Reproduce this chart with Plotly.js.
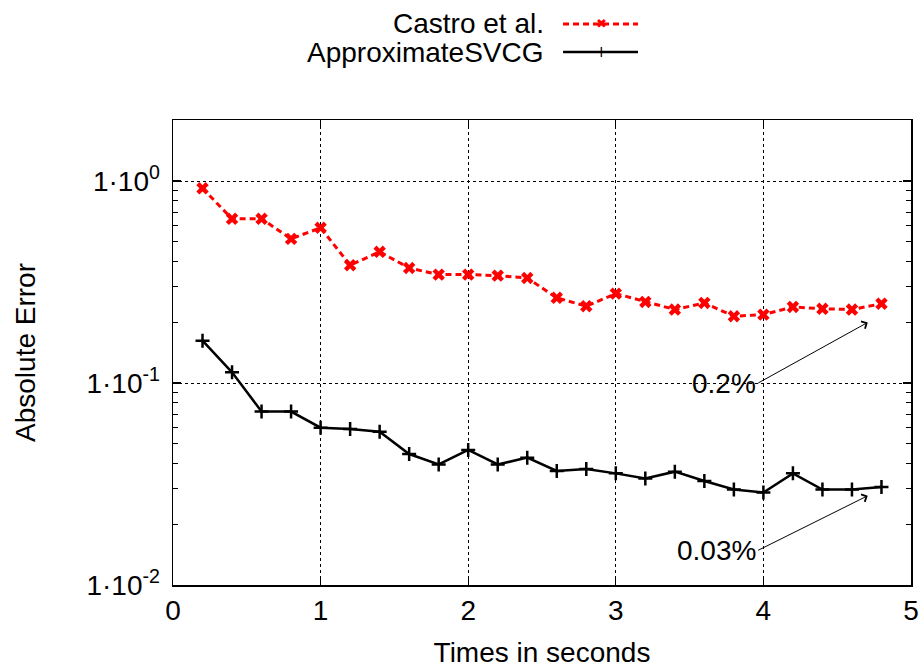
<!DOCTYPE html>
<html>
<head>
<meta charset="utf-8">
<script src="https://cdn.plot.ly/plotly-3.0.1.min.js"></script>
<style>html,body{margin:0;padding:0;background:#fff;}#chart{width:922px;height:668px;}</style>
</head>
<body>
<div id="chart"></div>
<script>
// ---- data ----
const times = [0.2,0.4,0.6,0.8,1.0,1.2,1.4,1.6,1.8,2.0,2.2,2.4,2.6,2.8,3.0,3.2,3.4,3.6,3.8,4.0,4.2,4.4,4.6,4.8];
const castroError = [0.92,0.65,0.65,0.517,0.587,0.383,0.446,0.371,0.344,0.344,0.340,0.331,0.264,0.240,0.277,0.252,0.231,0.249,0.214,0.218,0.238,0.233,0.231,0.247];
const svcgError = [0.162,0.113,0.0722,0.0722,0.0601,0.0592,0.0574,0.0445,0.0395,0.0466,0.0395,0.0427,0.0367,0.0375,0.0357,0.0337,0.0364,0.0327,0.0297,0.0287,0.0357,0.0297,0.0297,0.0306];
const seriesNames = ["Castro et al.", "ApproximateSVCG"];
const xTickVals = [0,1,2,3,4,5];
const xTickText = ["0","1","2","3","4","5"];
const yTickVals = [0.01,0.1,1];
const yTickText = ["1·10<sup>-2</sup>","1·10<sup>-1</sup>","1·10<sup>0</sup>"];
const yMinorVals = [];
[0.01,0.1,1].forEach(d => { for (let k=2;k<=9;k++) yMinorVals.push(d*k); });
const annoLabels = ["0.2%", "0.03%"];

const FONT = "Liberation Sans, Arial, Helvetica, sans-serif";
const FS = 28;

const traces = [
  {
    x: times, y: castroError, name: seriesNames[0], type: "scatter", mode: "lines+markers",
    line: {color: "#ff0000", width: 3, dash: "6px,4px"},
    marker: {symbol: "x", size: 11, color: "#ff0000"},
    showlegend: false
  },
  {
    x: times, y: svcgError, name: seriesNames[1], type: "scatter", mode: "lines+markers",
    line: {color: "#000000", width: 2.5},
    marker: {symbol: "cross-thin", size: 10, line: {color: "#000000", width: 2.5}},
    showlegend: false
  }
];

// legend drawn gnuplot-style (text right-aligned, sample on the right)
const legY = [1.2065, 1.1462];
const sampX0 = 0.5285, sampX1 = 0.6301, sampXm = 0.580, textX = 0.5054;

const layout = {
  width: 922, height: 668,
  margin: {l: 173, r: 11, t: 120, b: 83},
  paper_bgcolor: "#ffffff", plot_bgcolor: "#ffffff",
  font: {family: FONT, size: FS, color: "#000"},
  showlegend: false,
  xaxis: {
    range: [0, 5], tickmode: "array", tickvals: xTickVals, ticktext: xTickText,
    ticks: "inside", ticklen: 8, tickwidth: 1.2, tickcolor: "#000",
    showline: true, linecolor: "#000", linewidth: 1.5, mirror: "allticks",
    showgrid: true, gridcolor: "#000", griddash: "dot", gridwidth: 1,
    zeroline: false,
    tickfont: {family: FONT, size: FS},
    title: {text: "Times in seconds", font: {family: FONT, size: FS}, standoff: 24}
  },
  yaxis: {
    type: "log", range: [-2, 0.302], tickmode: "array", tickvals: yTickVals, ticktext: yTickText,
    ticks: "inside", ticklen: 8, tickwidth: 1.2, tickcolor: "#000",
    showline: true, linecolor: "#000", linewidth: 1.5, mirror: "allticks",
    showgrid: true, gridcolor: "#000", griddash: "dot", gridwidth: 1,
    zeroline: false,
    minor: {tickmode: "array", tickvals: yMinorVals, ticks: "inside", ticklen: 5, tickwidth: 1, tickcolor: "#000", showgrid: false},
    tickfont: {family: FONT, size: FS},
    ticklabelstandoff: 6,
    title: {text: "Absolute Error", font: {family: FONT, size: FS}, standoff: 42}
  },
  shapes: [
    {type: "line", xref: "paper", yref: "paper", x0: sampX0, x1: sampX1, y0: legY[0], y1: legY[0],
     line: {color: "#ff0000", width: 3, dash: "6px,4px"}},
    {type: "line", xref: "paper", yref: "paper", x0: sampX0, x1: sampX1, y0: legY[1], y1: legY[1],
     line: {color: "#000000", width: 2.5}}
  ],
  annotations: [
    {xref: "paper", yref: "paper", x: textX, y: legY[0], text: seriesNames[0], showarrow: false,
     xanchor: "right", yanchor: "middle", font: {family: FONT, size: FS}},
    {xref: "paper", yref: "paper", x: textX, y: legY[1], text: seriesNames[1], showarrow: false,
     xanchor: "right", yanchor: "middle", font: {family: FONT, size: FS}},
    {xref: "paper", yref: "paper", x: sampXm, y: legY[0], text: "✖", showarrow: false,
     xanchor: "center", yanchor: "middle", font: {family: "DejaVu Sans", size: 13, color: "#ff0000"}},
    {xref: "paper", yref: "paper", x: sampXm, y: legY[1], text: "+", showarrow: false,
     xanchor: "center", yanchor: "middle", font: {family: "DejaVu Sans", size: 15, color: "#000"}},
    // percentage labels with arrows (text sits at the arrow's tail)
    {x: 4.707, y: -0.700, ax: 3.965, ay: -1.0, xref: "x", yref: "y", axref: "x", ayref: "y",
     text: annoLabels[0], xanchor: "right", yanchor: "middle", font: {family: FONT, size: FS},
     showarrow: true, arrowhead: 4, arrowsize: 1.6, arrowwidth: 1, arrowcolor: "#000"},
    {x: 4.707, y: -1.558, ax: 3.965, ay: -1.828, xref: "x", yref: "y", axref: "x", ayref: "y",
     text: annoLabels[1], xanchor: "right", yanchor: "middle", font: {family: FONT, size: FS},
     showarrow: true, arrowhead: 4, arrowsize: 1.6, arrowwidth: 1, arrowcolor: "#000"}
  ]
};

Plotly.newPlot("chart", traces, layout, {displayModeBar: false, staticPlot: true});
</script>
</body>
</html>
